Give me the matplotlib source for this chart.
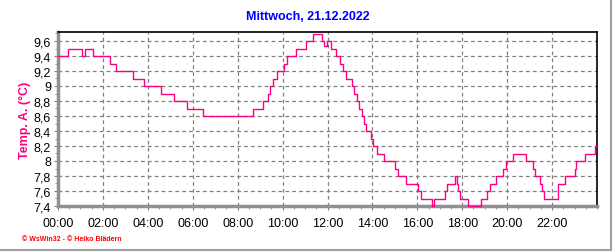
import matplotlib
matplotlib.use("Agg")
import matplotlib.pyplot as plt
from matplotlib.ticker import MultipleLocator, FuncFormatter
from matplotlib.lines import Line2D

plt.rcParams['font.family'] = ['Liberation Sans', 'DejaVu Sans']

# Stunden (Zeitpunkte der Wertaenderung) und Temperaturen
hours = [0.0, 0.43, 1.05, 1.2, 1.57, 2.32, 2.58, 3.35, 3.83, 4.59, 5.17, 5.76, 6.44,
         8.67, 9.11, 9.36, 9.44, 9.56, 9.77, 10.08, 10.21, 10.58, 11.04, 11.37, 11.74,
         11.84, 11.96, 12.14, 12.38, 12.56, 12.70, 12.81, 13.08, 13.18, 13.30, 13.40,
         13.52, 13.62, 13.71, 13.92, 14.01, 14.19, 14.51, 15.0, 15.15, 15.49, 16.04,
         16.18, 16.67, 16.75, 17.23, 17.33, 17.68, 17.76, 17.82, 17.90, 18.26, 18.82,
         19.08, 19.22, 19.52, 19.80, 19.93, 20.26, 20.85, 21.16, 21.26, 21.48, 21.57,
         21.63, 22.27, 22.58, 23.01, 23.07, 23.45, 23.93, 24.0]
temps = [9.4, 9.5, 9.4, 9.5, 9.4, 9.3, 9.2, 9.1, 9.0, 8.9, 8.8, 8.7, 8.6,
         8.7, 8.8, 8.9, 9.0, 9.1, 9.2, 9.3, 9.4, 9.5, 9.6, 9.7, 9.6,
         9.53, 9.6, 9.5, 9.4, 9.3, 9.2, 9.1, 9.0, 8.9, 8.8, 8.7,
         8.6, 8.5, 8.4, 8.3, 8.2, 8.1, 8.0, 7.9, 7.8, 7.7, 7.6,
         7.5, 7.4, 7.5, 7.6, 7.7, 7.8, 7.7, 7.6, 7.5, 7.4, 7.5,
         7.6, 7.7, 7.8, 7.9, 8.0, 8.1, 8.0, 7.9, 7.8, 7.7, 7.6,
         7.5, 7.7, 7.8, 7.9, 8.0, 8.1, 8.2, 8.2]

x_ticks = [0, 2, 4, 6, 8, 10, 12, 14, 16, 18, 20, 22]
x_labels = ["00:00", "02:00", "04:00", "06:00", "08:00", "10:00",
            "12:00", "14:00", "16:00", "18:00", "20:00", "22:00"]

fig = plt.figure(figsize=(6.16, 2.53), dpi=100)
ax = fig.add_axes([58/616, 46/253, 539/616, 174/253])

ax.plot(hours, temps, drawstyle='steps-post', color='#ff0080', lw=1.0,
        clip_on=False, zorder=5)

ax.set_xlim(0, 24)
ax.set_ylim(7.4, 9.72)
ax.set_xticks(x_ticks)
ax.set_xticklabels(x_labels)
ax.xaxis.set_minor_locator(MultipleLocator(0.5))
ax.yaxis.set_major_locator(MultipleLocator(0.2))
ax.yaxis.set_minor_locator(MultipleLocator(0.1))
ax.yaxis.set_major_formatter(FuncFormatter(lambda v, p: f"{v:.1f}".rstrip('0').rstrip('.').replace('.', ',')))

ax.grid(True, which='major', color='#808080', linestyle=(0, (3, 2.5)), lw=0.9)
ax.tick_params(which='both', direction='out', color='#808080', labelsize=9, pad=2)
ax.tick_params(which='major', length=3)
ax.tick_params(which='minor', length=2)
ax.tick_params(axis='x', pad=5)

for side in ['top', 'right']:
    ax.spines[side].set_color('black')
    ax.spines[side].set_linewidth(1.2)
for side in ['left', 'bottom']:
    ax.spines[side].set_color('#909090')
    ax.spines[side].set_linewidth(2.5)

ax.set_ylabel("Temp. A. (°C)", color='#ff0080', fontweight='bold', fontsize=9, labelpad=2)
fig.text(0.5, 1 - 17/253, "Mittwoch, 21.12.2022", color='#0000ff', fontweight='bold',
         fontsize=9, ha='center', va='center')
fig.text(22/616, 1 - 240/253, "© WsWin32 - © Heiko Blädern", color='#ff0000',
         fontsize=5, fontweight='bold', ha='left', va='center')

# aeusserer Rahmen unten/rechts
fig.add_artist(Line2D([0, 611/616], [2/253, 2/253], color='#a0a0a0', lw=1.5))
fig.add_artist(Line2D([611/616, 611/616], [2/253, 1], color='#a0a0a0', lw=1.5))

fig.savefig("out.png", dpi=100)
